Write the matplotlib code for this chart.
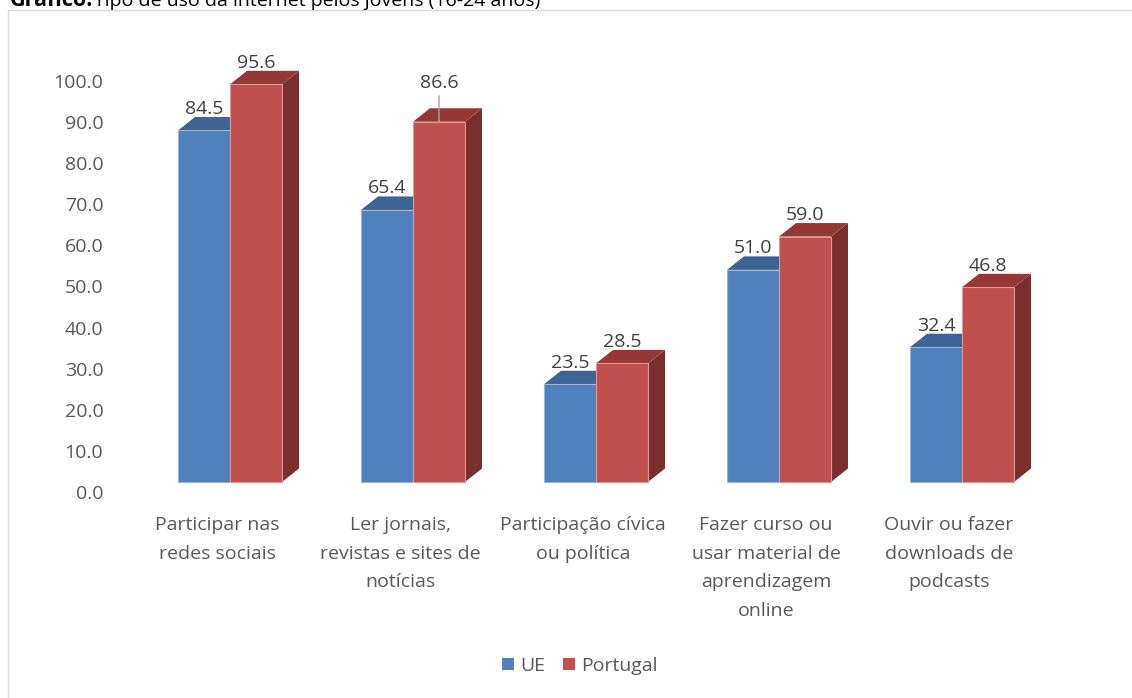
import numpy as np
import matplotlib
matplotlib.use("Agg")
import matplotlib.pyplot as plt
import matplotlib.transforms as mtransforms
from matplotlib.patches import Polygon, Rectangle, Patch

# data
categories = ["Participar nas\nredes sociais",
              "Ler jornais,\nrevistas e sites de\nnotícias",
              "Participação cívica\nou política",
              "Fazer curso ou\nusar material de\naprendizagem\nonline",
              "Ouvir ou fazer\ndownloads de\npodcasts"]
ue = [84.5, 65.4, 23.5, 51.0, 32.4]
portugal = [95.6, 86.6, 28.5, 59.0, 46.8]
series_names = ["UE", "Portugal"]
y_ticks = np.arange(0, 101, 10)

plt.rcParams['font.family'] = ['Open Sans', 'DejaVu Sans']

W, H = 1132, 698
fig = plt.figure(figsize=(W / 100, H / 100), dpi=100)


def px_box(left, top, right, bottom):
    return [left / W, 1 - bottom / H, (right - left) / W, (bottom - top) / H]


# value labels sit on the back wall, a bit below the bar floor -> y range starts below 0
y_low = -2.4
ax = fig.add_axes(px_box(120.2, 66, 1071.8, 492))

# pseudo 3D look: depth of the bars in data units
px_x = 183.0
px_y = 4.16
w = 52 / px_x
dx = 17 / px_x
dy = 13.5 / px_y

colors = {"UE": ("#4F81BD", "#3C6494", "#2F5480", "#9DB6D8"),
          "Portugal": ("#C0504D", "#953735", "#7A2E2D", "#DB9A98")}

x = np.arange(len(categories))
z = 1
for name, vals, xs in [("UE", ue, x - w / 2), ("Portugal", portugal, x + w / 2)]:
    front, top, side, edge = colors[name]
    for xc, v in zip(xs, vals):
        x0, x1 = xc - w / 2, xc + w / 2
        ax.add_patch(Polygon([(x1, 0), (x1 + dx, dy), (x1 + dx, v + dy), (x1, v)],
                             closed=True, fc=side, ec='none', zorder=z, clip_on=False))
        ax.add_patch(Polygon([(x0, v), (x0 + dx, v + dy), (x1 + dx, v + dy), (x1, v)],
                             closed=True, fc=top, ec='none', zorder=z, clip_on=False))
    ax.bar(xs, vals, w, color=front, edgecolor=edge, linewidth=0.8, zorder=z + 1, label=name)
    z += 2

# data labels
for xc, v in zip(x - w / 2, ue):
    ax.annotate(f"{v:.1f}", (xc, v), xytext=(0, 11.9), textcoords='offset points',
                ha='center', va='baseline', fontsize=14, color='#404040', zorder=10)
for i, (xc, v) in enumerate(zip(x + w / 2, portugal)):
    if i == 1:
        # this one sits higher, with a leader line
        ax.annotate(f"{v:.1f}", (xc, v), xytext=(0, 24.5), textcoords='offset points',
                    ha='center', va='baseline', fontsize=14, color='#404040', zorder=10,
                    arrowprops=dict(arrowstyle='-', color='#A6A6A6', lw=1, shrinkA=1, shrinkB=0))
    else:
        ax.annotate(f"{v:.1f}", (xc, v), xytext=(0, 11.9), textcoords='offset points',
                    ha='center', va='baseline', fontsize=14, color='#404040', zorder=10)

# axes and ticks
for s in ax.spines.values():
    s.set_visible(False)
ax.set_yticks(y_ticks * 0.988 + y_low, [f"{t:.1f}" for t in y_ticks])
ax.set_xticks(x, categories)
ax.set_xlim(-0.6, 4.6)
ax.set_ylim(y_low, 100)
ax.tick_params(axis='y', length=0, pad=12.2, labelsize=14, labelcolor='#595959')
ax.tick_params(axis='x', length=0, pad=17.3, labelsize=14, labelcolor='#595959')
shift = mtransforms.ScaledTranslation(-13 / 100, 0, fig.dpi_scale_trans)
for lab in ax.get_xticklabels():
    lab.set_linespacing(1.75)
    lab.set_transform(lab.get_transform() + shift)

# legend
handles = [Patch(fc=colors[n][0]) for n in series_names]
fig.legend(handles, series_names, loc='center', bbox_to_anchor=(580 / W, 1 - 666 / H),
           ncol=2, frameon=False, fontsize=14, handlelength=0.62, handleheight=0.62,
           handletextpad=0.3, columnspacing=0.93, labelcolor='#595959')

# frame around the chart and the clipped caption above it
fig.add_artist(Rectangle((8 / W, -0.05), 1.1, 1 - 10 / H + 0.05, transform=fig.transFigure,
                         fill=False, ec='#D9D9D9', lw=1))
fig.text(10 / W, 1 - 6 / H, "Gráfico:", fontsize=15.5, fontweight='bold', va='baseline')
fig.text(94 / W, 1 - 6 / H, "Tipo de uso da internet pelos jovens (16-24 anos)",
         fontsize=14, va='baseline')

fig.savefig("out.png", dpi=100)
plt.close(fig)
